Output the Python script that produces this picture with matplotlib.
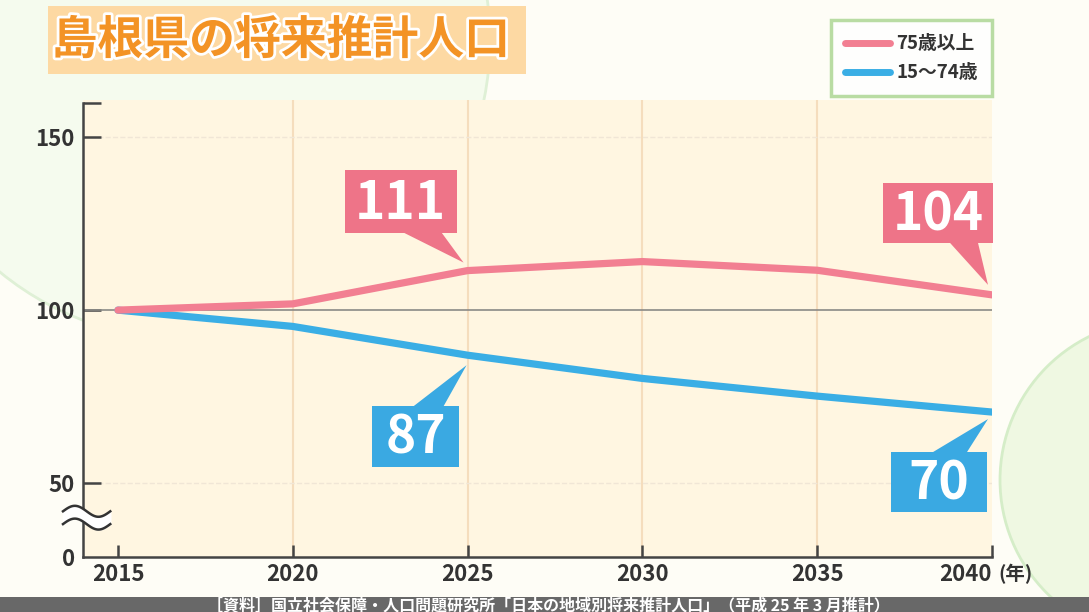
import numpy as np
import matplotlib.pyplot as plt
from matplotlib.patches import Rectangle, Circle, Polygon
from matplotlib.transforms import ScaledTranslation, IdentityTransform
import matplotlib.patheffects as pe

plt.rcParams['font.family'] = ['Noto Sans CJK JP', 'DejaVu Sans']

# ---- data ----
years = [2015, 2020, 2025, 2030, 2035, 2040]
over75 = [100, 101.8, 111.4, 114.0, 111.5, 104.4]
age15_74 = [100, 95.3, 87.0, 80.3, 75.2, 70.6]
xticks = [2015, 2020, 2025, 2030, 2035, 2040]
yticks = [50, 100, 150]
ybottom = 28.8  # drawn as "0" with axis break

# call-out labels: text, year, value, series
callout_text = ["111", "104", "87", "70"]
callout_year = [2025, 2040, 2025, 2040]
callout_value = [111.4, 104.4, 87.0, 70.6]
callout_series = ["pink", "pink", "blue", "blue"]

# layout of the call-outs in pixels relative to the point (box centre, box size, pointer)
callout_layout = [
    ((-67, 69), (112, 63), [(-64, 38), (-26, 38), (-4, 8)]),
    ((-54, 82), (110, 60), [(-42, 52), (-14, 52), (-4, 10)]),
    ((-52, -81), (87, 61), [(-54, -51), (-24, -51), (-1, -10)]),
    ((-53, -70), (96, 60), [(-59, -40), (-25, -40), (-4, -7)]),
]

colors = {"pink": "#F27F92", "blue": "#3AAEE5"}
box_colors = {"pink": "#EE7488", "blue": "#3AA9E2"}

fig = plt.figure(figsize=(10.89, 6.12), dpi=100)
fig.patch.set_facecolor("#FEFDF6")
H = 6.12

# background decoration
fig.patches.append(Circle((1.9, H - 0.4), 3.0, transform=fig.dpi_scale_trans,
                          fc="#F5FBEE", ec="#DFF0D6", lw=2, zorder=-2))
fig.patches.append(Circle((11.6, H - 4.8), 1.6, transform=fig.dpi_scale_trans,
                          fc="#EFF8E2", ec="#D5EDC8", lw=2, zorder=-2))
fig.patches.append(Rectangle((0, 0), 1, 15 / 612, transform=fig.transFigure,
                             fc="#686868", ec="none", zorder=1))

ax = fig.add_axes([83 / 1089, 1 - 557 / 612, 909 / 1089, 457 / 612])
ax.set_facecolor("#FFF6E1")
ax.set_xlim(2014.0, 2040)
ax.set_ylim(ybottom, 160.6)

for x in xticks[1:-1]:
    ax.axvline(x, color="#F5DDBD", lw=1.5, zorder=1)
ax.axhline(100, color="#8A8A86", lw=1.2, zorder=2)
ax.axhline(50, color="#F0E6D6", lw=1, ls="--", zorder=1)
ax.axhline(150, color="#F0E6D6", lw=1, ls="--", zorder=1)

ax.plot(years, over75, color=colors["pink"], lw=5.2, solid_capstyle="round",
        solid_joinstyle="round", label="75歳以上", zorder=4)
ax.plot(years, age15_74, color=colors["blue"], lw=5.2, solid_capstyle="round",
        solid_joinstyle="round", label="15～74歳", zorder=3)

for s in ["top", "right"]:
    ax.spines[s].set_visible(False)
for s in ["left", "bottom"]:
    ax.spines[s].set_color("#444444")
    ax.spines[s].set_linewidth(1.8)
ax.spines["left"].set_bounds(ybottom, 159.7)

ax.set_xticks(xticks)
ax.set_xticklabels([str(x) for x in xticks])
ax.set_yticks([ybottom] + yticks)
ax.set_yticklabels(["0"] + [str(y) for y in yticks])
ax.set_yticks([159.7], minor=True)
ax.tick_params(axis="both", which="both", direction="in", color="#444444", width=1.8,
               labelsize=16, labelcolor="#333333")
ax.tick_params(axis="y", which="both", length=13, pad=6)
ax.tick_params(axis="x", length=9, pad=4)
ax.yaxis.get_major_ticks()[0].tick1line.set_visible(False)
for lab in ax.get_xticklabels() + ax.get_yticklabels():
    lab.set_fontweight("bold")
ax.get_xticklabels()[-1].set_horizontalalignment("right")
fig.text(998 / 1089, 1 - 574 / 612, "(年)", fontsize=14, fontweight="bold",
         color="#333333", va="center", ha="left")

# axis break mark
bx = np.linspace(-0.022, 0.03, 60)
wave = 0.012 * np.sin((bx + 0.022) / 0.052 * 2 * np.pi)
ax.fill_between(bx, 0.072 + wave, 0.1 + wave, color="white",
                transform=ax.transAxes, clip_on=False, zorder=5)
ax.plot(bx, 0.072 + wave, color="#333333", lw=1.8, transform=ax.transAxes,
        clip_on=False, zorder=6)
ax.plot(bx, 0.1 + wave, color="#333333", lw=1.8, transform=ax.transAxes,
        clip_on=False, zorder=6)

# call-out labels
for text, x, y, ser, (ctr, size, ptr) in zip(callout_text, callout_year, callout_value,
                                             callout_series, callout_layout):
    tr = IdentityTransform() + ScaledTranslation(x, y, ax.transData)
    col = box_colors[ser]
    ax.add_patch(Rectangle((ctr[0] - size[0] / 2, ctr[1] - size[1] / 2), size[0], size[1],
                           transform=tr, fc=col, ec="none", zorder=7, clip_on=False))
    ax.add_patch(Polygon(ptr, closed=True, transform=tr, fc=col, ec="none",
                         zorder=7, clip_on=False))
    ax.annotate(text, xy=(x, y), xytext=(ctr[0], ctr[1] - 2), textcoords="offset pixels",
                ha="center", va="center", fontsize=37, fontweight="bold",
                color="white", zorder=8)

leg = ax.legend(loc="upper right", bbox_to_anchor=(992 / 1089, 1 - 20 / 612),
                bbox_transform=fig.transFigure, fontsize=13.5, frameon=True,
                fancybox=False, handlelength=2.4, handletextpad=0.35, borderpad=0.75,
                labelspacing=0.55, borderaxespad=0)
leg.get_frame().set_edgecolor("#A8D48E")
leg.get_frame().set_linewidth(2.5)
leg.get_frame().set_facecolor("white")
leg.set_zorder(10)
for t in leg.get_texts():
    t.set_fontweight("bold")
    t.set_color("#333333")
for h in leg.legend_handles:
    h.set_linewidth(5)
    h.set_solid_capstyle("round")

# title
fig.patches.append(Rectangle((48 / 1089, 1 - 74 / 612), 478 / 1089, 68 / 612,
                             transform=fig.transFigure, fc="#FDD9A3", ec="none", zorder=1))
fig.text(281 / 1089, 1 - 41 / 612, "島根県の将来推計人口", ha="center", va="center",
         fontsize=33, fontweight="bold", color="#F39325", zorder=2,
         path_effects=[pe.withStroke(linewidth=4, foreground="white")])

fig.text(548 / 1089, 7 / 612,
         "［資料］国立社会保障・人口問題研究所「日本の地域別将来推計人口」（平成 25 年 3 月推計）",
         ha="center", va="center", fontsize=11.5, color="white", fontweight="bold", zorder=2)

fig.savefig("out.png", dpi=100, facecolor=fig.get_facecolor())
